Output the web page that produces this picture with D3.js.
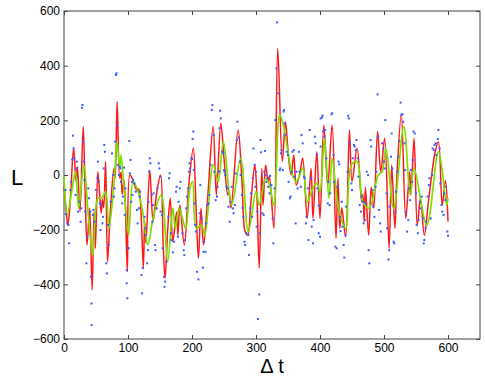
<!DOCTYPE html>
<html>
<head>
<meta charset="utf-8">
<script src="https://cdn.jsdelivr.net/npm/d3@7"></script>
<style>
  body { margin: 0; background: #fff; }
  text { font-family: "Liberation Sans", Arial, sans-serif; }
</style>
</head>
<body>
<svg id="container" width="485" height="383"></svg>
<script>
// tick values
const xTicks = [0, 100, 200, 300, 400, 500, 600];
const yTicks = [-600, -400, -200, 0, 200, 400, 600];

// red trace (t, L) read at its turning points
const redT = [0,3,6,9,11,15,19,21,25,30,33,36,40,44,47,49,53,58,60,62,65,68,72,78,80,83,87,89,91,94,99,
  103,108,112,115,117,120,124,126,128,134,139,142,146,151,155,158,162,166,170,176,178,181,188,195,
  202,206,210,214,218,224,233,238,245,250,256,258,261,272,278,283,287,292,298,
  301,305,309,311,315,319,321,328,334,341,346,351,355,359,363,368,373,380,386,389,395,
  400,406,412,419,425,428,431,434,440,446,450,458,465,467,469,471,476,480,484,490,495,
  501,508,512,517,520,527,534,540,542,547,552,557,563,570,580,585,591,596,600];
const redL = [-40,-120,-183,-120,-48,99,-25,30,-134,177,-60,-256,-121,-421,-134,-268,12,-140,-90,-120,49,-317,-150,24,-10,268,-12,10,-70,-20,-354,
  0,-20,-48,-60,-50,-121,-341,-170,-250,18,-170,-120,-48,0,-256,-378,-200,-85,-244,-134,-220,-110,-256,-37,
  98,-100,-305,-122,-256,-100,177,-73,189,60,-73,-60,-121,165,-20,-207,-220,-100,37,
  -50,-341,24,-110,37,-24,-5,-195,463,49,195,60,0,73,-37,0,61,-159,24,-159,85,
  -159,183,-37,183,-232,-12,-195,-120,-226,165,-24,98,-98,-70,-170,-45,-220,-45,-121,159,12,
  134,-268,37,-195,-12,220,-159,12,-73,134,-183,-85,-220,-85,85,122,-110,-20,-170];

// green (smoother) trace
const greenT = [0,5,12,18,23,31,38,45,53,59,65,70,78,83,87,89,93,101,108,116,124,131,140,152,162,170,174,180,190,197,
  201,207,215,220,233,241,249,262,276,288,300,305,315,321,328,337,343,349,357,363,373,380,389,395,
  400,407,414,419,429,440,449,458,467,477,491,497,503,515,531,541,547,567,585,598,600];
const greenL = [0,-146,-60,12,-121,37,-150,-293,-85,-85,-61,-195,-37,122,24,73,-24,-220,-24,-61,-150,-256,-150,-73,-317,-121,-195,-121,-195,-45,
  -24,-195,-183,-220,37,-24,122,-110,61,-207,-60,-110,-12,-37,-110,220,180,98,0,-24,24,-98,-48,-30,
  -61,134,-85,61,-121,-195,37,49,-98,-121,0,12,98,-122,177,-73,24,-183,85,-110,-85];

// blue samples [t, L]
const dots = [
  [2,-55],[3,-143],[5,-177],[7,-183],[8,-250],[10,-55],[11,-25],[13,57],[14,144],[15,97],[16,61],[18,-73],[19,24],[20,49],
  [22,-134],[24,-98],[26,-171],[27,-122],[28,246],[29,256],[30,122],[31,49],[32,-18],[33,-134],[35,-323],[36,-226],
  [38,-49],[39,-85],[41,-134],[42,-372],[43,-470],[43,-549],[45,-146],[46,-128],[48,-171],[50,-55],[52,-10],[53,49],
  [54,-25],[56,-104],[57,-201],[58,-110],[60,-177],[61,-153],[62,24],[63,110],[64,85],[66,-323],[67,-360],[69,-183],
  [70,-256],[73,-98],[75,79],[77,0],[78,-79],[79,-49],[80,122],[81,366],[82,372],[83,183],[84,37],[86,0],[87,30],
  [88,24],[89,-25],[91,-104],[92,-79],[94,27],[95,-146],[96,-49],[98,-348],[99,-451],[100,-268],
  [98,-396],[101,-268],[102,124],[103,6],[104,55],[105,-98],[106,-25],[107,-73],[108,-18],[110,-31],[112,-61],
  [114,-128],[115,-177],[117,-122],[118,-79],[119,-61],[121,-366],[122,-433],[123,-341],[126,-153],[127,-195],
  [128,-220],[130,-323],[131,-275],[132,-98],[133,12],[134,61],[135,43],[137,-73],[138,-171],[139,-110],[140,-67],
  [142,-256],[143,-275],[145,-122],[146,-49],[148,43],[149,24],[150,-6],[151,-134],[153,-146],[154,-268],[156,-372],
  [157,-409],[158,-390],[160,-317],[163,-153],[164,-12],[165,6],[167,-213],[168,-238],[170,-283],[172,-244],
  [175,-61],[176,-43],[178,-226],[179,-98],[181,-49],[182,-25],[185,-213],[187,-275],[188,-293],[189,-238],
  [191,-122],[192,-79],[194,-49],[195,12],[196,43],[197,24],[199,61],
  [200,58],[201,132],[202,159],[203,18],[204,-104],[205,-183],[206,-207],[208,-354],[210,-382],[212,-140],[213,-37],
  [215,-159],[217,-339],[218,-281],[219,-244],[221,-281],[222,-177],[224,-110],[226,-104],[227,-73],[229,37],
  [231,238],[232,256],[234,146],[235,12],[237,-92],[239,-79],[240,-43],[242,12],[243,171],[244,235],[245,207],
  [247,85],[249,79],[250,18],[251,12],[252,0],[254,-43],[256,-49],[257,-116],[259,-171],[260,-98],[262,-43],
  [264,-122],[265,-140],[267,-110],[268,6],[270,128],[271,195],[273,137],[275,49],[276,0],[278,-73],[279,-120],
  [280,-153],[282,-244],[283,-256],[285,-213],[288,-220],[289,-293],[291,-122],[292,-67],[294,-153],[295,-12],
  [296,97],[298,37],[299,-43],
  [300,12],[301,-189],[302,-134],[303,-527],[305,-437],[306,-213],[307,128],[308,83],[310,-140],[312,-146],[313,12],
  [314,88],[315,0],[316,-25],[318,-12],[319,-43],[321,-67],[322,-3],[324,-37],[326,-159],[327,-250],[329,-49],
  [330,201],[332,390],[333,558],[335,299],[337,18],[338,24],[339,79],[340,91],[342,18],[343,232],[344,238],
  [345,189],[346,146],[348,85],[350,73],[351,-25],[353,-85],[354,-79],[356,12],[357,85],[359,91],[360,-6],
  [362,-177],[363,12],[365,-49],[367,85],[368,12],[370,-43],[371,146],[373,116],[375,-6],[376,-12],[378,-177],
  [379,-153],[381,-49],[382,-238],[384,165],[386,-12],[387,-189],[389,-250],[390,-165],[392,140],[393,116],
  [395,76],[396,-49],[398,-213],[398,-112],
  [400,-226],[401,207],[401,104],[403,210],[404,217],[405,159],[407,140],[408,165],[410,61],[412,-104],[413,-25],
  [415,-110],[416,-67],[418,222],[419,226],[421,73],[422,-25],[424,-262],[426,-268],[427,-43],[429,49],[430,39],
  [431,-153],[432,-205],[434,-98],[435,-189],[437,-256],[438,-302],[440,-220],[441,-116],[443,12],[444,217],
  [445,207],[447,116],[449,-31],[450,-55],[451,61],[453,110],[454,104],[456,91],[457,128],[459,61],[460,-6],
  [462,-110],[464,-134],[465,-79],[467,-98],[468,-177],[470,-165],[471,-104],[473,12],[475,0],[476,-275],
  [477,-323],[479,128],[480,104],[482,-55],[483,-116],[485,-153],[487,-43],[488,12],[490,295],[491,140],
  [492,-128],[494,-177],[495,-207],[497,116],[499,97],
  [500,49],[501,24],[502,201],[504,-67],[505,-195],[507,-309],[508,-275],[509,-116],[511,67],[512,152],[513,24],
  [515,-244],[516,-250],[518,-134],[519,-61],[521,12],[522,67],[524,124],[526,265],[527,220],[529,222],[530,195],
  [532,116],[533,18],[534,-134],[536,-207],[538,-165],[539,-49],[541,-92],[542,18],[544,-25],[545,55],[546,159],
  [548,152],[550,-67],[551,-183],[553,-213],[554,-165],[556,-98],[557,-122],[559,-79],[561,-159],[562,-250],
  [563,-238],[565,-195],[566,-171],[568,-79],[570,-37],[571,-12],[573,-159],[575,0],[576,97],[578,91],[579,110],
  [581,116],[582,73],[584,132],[585,165],[587,97],[588,-31],[590,-110],[591,-134],[593,-146],[594,-67],[596,-92],
  [597,-43],[599,-207],[600,-222]
];

const svg = d3.select('#container');
const margin = { left: 64, right: 5, top: 11, bottom: 44 };
const width = +svg.attr('width'), height = +svg.attr('height');

const x = d3.scaleLinear().domain([0, 650]).range([margin.left, width - margin.right]);
const y = d3.scaleLinear().domain([-600, 600]).range([height - margin.bottom, margin.top]);
const fmt = v => (v < 0 ? '\u2212' : '') + Math.abs(v);

// plot box
svg.append('rect')
    .attr('x', x(0)).attr('y', y(600))
    .attr('width', x(650) - x(0)).attr('height', y(-600) - y(600))
    .attr('fill', 'none').attr('stroke', '#444').attr('stroke-width', 1);

const line = d3.line().curve(d3.curveCatmullRom.alpha(0.5));

svg.append('path')
    .attr('d', line(redT.map((t, i) => [x(t), y(redL[i])])))
    .attr('fill', 'none').attr('stroke', '#ff1a1a').attr('stroke-width', 1.5);

svg.append('path')
    .attr('d', line(greenT.map((t, i) => [x(t), y(greenL[i])])))
    .attr('fill', 'none').attr('stroke', '#7be000').attr('stroke-width', 1.7);

svg.append('g').selectAll('rect')
    .data(dots)
    .join('rect')
    .attr('x', d => x(d[0]) - 1)
    .attr('y', d => y(d[1]) - 1)
    .attr('width', 2).attr('height', 2)
    .attr('fill', '#3b5bff');

// axes, ticks pointing inward
function styleAxis(g) {
    g.select('.domain').remove();
    g.selectAll('line').attr('stroke', '#444');
    g.selectAll('text').attr('font-size', 12).attr('fill', '#000');
}

svg.append('g')
    .attr('transform', `translate(0,${y(-600)})`)
    .call(d3.axisBottom(x).tickValues(xTicks).tickSize(-4).tickPadding(4).tickFormat(fmt))
    .call(styleAxis);
svg.append('g')
    .attr('transform', `translate(0,${y(600)})`)
    .call(d3.axisTop(x).tickValues(xTicks).tickSize(-4).tickFormat(''))
    .call(styleAxis);
svg.append('g')
    .attr('transform', `translate(${x(0)},0)`)
    .call(d3.axisLeft(y).tickValues(yTicks).tickSize(-4).tickPadding(4).tickFormat(fmt))
    .call(styleAxis);
svg.append('g')
    .attr('transform', `translate(${x(650)},0)`)
    .call(d3.axisRight(y).tickValues(yTicks).tickSize(-4).tickFormat(''))
    .call(styleAxis);

// axis labels
svg.append('text')
    .attr('x', 272).attr('y', 373)
    .attr('text-anchor', 'middle')
    .attr('font-size', 20)
    .text('\u0394 t');
svg.append('text')
    .attr('x', 17).attr('y', 185)
    .attr('text-anchor', 'middle')
    .attr('font-size', 22)
    .text('L');
</script>
</body>
</html>
